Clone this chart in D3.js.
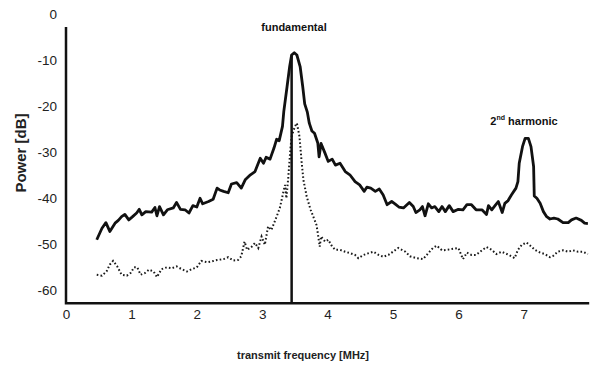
<!DOCTYPE html>
<html>
  <head>
  <title>Power spectrum</title>
  </head>
  <body>
  <style>
    body, html {
      margin: 0;
      padding: 0;
      background: #fff;
    }
    svg text {
      font-family: "Liberation Sans", Arial, sans-serif;
    }
  </style>

  <svg id="svg" width="594" height="367"></svg>

  <script src="https://cdn.jsdelivr.net/npm/d3@7"></script>
  <script>
    // frequency (MHz) / power (dB)
    const signalFreq = [0.47, 0.55, 0.61, 0.67, 0.75, 0.80, 0.85, 0.90, 0.96, 1.01, 1.08, 1.12, 1.16, 1.22, 1.31, 1.36, 1.39, 1.43, 1.49, 1.55,
      1.64, 1.69, 1.75, 1.82, 1.88, 1.94, 2.00, 2.05, 2.09, 2.18, 2.25, 2.31, 2.35, 2.41, 2.48, 2.53, 2.61, 2.68, 2.74, 2.82,
      2.89, 2.97, 3.02, 3.06, 3.12, 3.18, 3.22, 3.26, 3.31, 3.33, 3.38, 3.42, 3.45, 3.49, 3.53, 3.58, 3.62, 3.65, 3.69, 3.72,
      3.76, 3.80, 3.85, 3.87, 3.90, 3.96, 4.01, 4.07, 4.12, 4.19, 4.27, 4.34, 4.42, 4.49, 4.56, 4.60, 4.66, 4.73, 4.79, 4.85,
      4.91, 4.98, 5.03, 5.09, 5.16, 5.25, 5.31, 5.35, 5.41, 5.45, 5.49, 5.54, 5.59, 5.64, 5.70, 5.75, 5.80, 5.86, 5.92, 6.00,
      6.07, 6.13, 6.20, 6.27, 6.36, 6.43, 6.46, 6.51, 6.56, 6.61, 6.67, 6.71, 6.76, 6.81, 6.88, 6.91, 6.93, 6.98, 7.02, 7.07,
      7.11, 7.15, 7.16, 7.20, 7.25, 7.30, 7.35, 7.40, 7.46, 7.52, 7.60, 7.68, 7.73, 7.80, 7.88, 7.93, 7.98]
    const signalPower = [-49.0, -46.5, -45.3, -47.2, -45.4, -44.8, -44.0, -43.5, -44.7, -44.1, -43.2, -42.4, -43.6, -42.9, -43.0, -42.0, -43.8, -41.8, -43.6, -42.5,
      -42.1, -40.9, -42.4, -42.5, -43.2, -41.6, -41.9, -40.0, -41.2, -40.7, -40.2, -37.8, -38.2, -38.5, -38.8, -36.9, -36.6, -37.8, -36.0, -34.9,
      -34.2, -31.3, -32.4, -31.1, -31.5, -29.1, -27.2, -27.5, -24.4, -21.2, -15.8, -11.4, -8.9, -8.4, -8.9, -11.4, -15.8, -19.5, -21.3, -23.7,
      -25.4, -25.9, -28.0, -31.0, -28.1, -30.2, -32.0, -31.5, -32.8, -32.4, -34.2, -34.9, -36.4, -37.1, -38.5, -37.6, -37.8, -38.5, -38.0, -39.3,
      -41.4, -40.7, -41.2, -41.9, -42.1, -40.9, -41.8, -43.1, -42.5, -41.8, -43.8, -41.2, -42.1, -41.8, -42.9, -41.8, -42.9, -41.6, -42.9, -42.4,
      -42.5, -41.4, -41.4, -42.5, -42.5, -43.5, -41.6, -42.5, -41.6, -40.7, -43.1, -41.1, -40.5, -39.3, -37.8, -36.4, -32.4, -28.8, -27.0, -27.0,
      -28.8, -33.1, -39.5, -40.0, -41.1, -42.9, -44.0, -44.5, -44.3, -44.5, -45.3, -45.3, -44.7, -44.3, -44.8, -45.4, -45.5]

    const noiseFreq = [0.47, 0.55, 0.62, 0.67, 0.72, 0.78, 0.85, 0.93, 0.99, 1.04, 1.09, 1.14, 1.21, 1.27, 1.34, 1.39, 1.46, 1.54, 1.62, 1.69,
      1.77, 1.85, 1.92, 2.00, 2.07, 2.16, 2.23, 2.31, 2.41, 2.48, 2.56, 2.63, 2.68, 2.73, 2.77, 2.84, 2.89, 2.94, 2.99, 3.04,
      3.09, 3.14, 3.22, 3.27, 3.33, 3.35, 3.37, 3.40, 3.43, 3.45, 3.50, 3.53, 3.57, 3.60, 3.63, 3.68, 3.74, 3.79, 3.83, 3.85,
      3.88, 3.90, 3.96, 4.01, 4.07, 4.12, 4.19, 4.27, 4.34, 4.42, 4.47, 4.55, 4.63, 4.70, 4.78, 4.85, 4.93, 5.00, 5.08, 5.19,
      5.26, 5.36, 5.46, 5.54, 5.61, 5.67, 5.75, 5.82, 5.90, 6.00, 6.07, 6.13, 6.20, 6.27, 6.36, 6.43, 6.51, 6.58, 6.66, 6.74,
      6.81, 6.86, 6.91, 6.97, 7.04, 7.10, 7.17, 7.25, 7.32, 7.40, 7.45, 7.52, 7.60, 7.68, 7.75, 7.83, 7.90, 7.98]
    const noisePower = [-56.6, -56.8, -55.9, -54.4, -53.6, -54.7, -56.6, -56.8, -56.2, -55.0, -55.0, -56.6, -56.2, -55.5, -55.9, -57.1, -55.4, -55.0, -55.2, -54.8,
      -55.4, -55.9, -55.4, -55.0, -53.6, -53.9, -53.7, -53.4, -53.2, -52.8, -53.5, -53.4, -52.6, -49.4, -51.2, -50.5, -49.7, -50.8, -48.3, -50.1,
      -46.1, -46.9, -44.0, -42.1, -38.2, -37.1, -40.0, -35.3, -29.5, -26.6, -24.4, -23.7, -26.6, -31.7, -36.0, -39.6, -42.5, -44.3, -45.8, -47.6,
      -50.5, -48.3, -49.4, -49.0, -50.5, -51.2, -51.2, -51.6, -51.9, -52.3, -53.0, -52.3, -51.9, -51.6, -52.3, -52.7, -52.3, -51.6, -50.8, -51.6,
      -52.6, -53.0, -53.2, -51.9, -50.8, -50.3, -51.3, -51.2, -51.0, -50.8, -53.2, -51.8, -52.3, -52.3, -51.3, -50.6, -51.2, -52.1, -51.6, -52.1,
      -52.6, -53.0, -51.2, -50.1, -49.6, -50.3, -51.2, -51.8, -52.1, -52.8, -52.5, -51.6, -51.3, -51.6, -51.3, -51.6, -51.6, -52.1]

    // transmit marker line at the fundamental
    const markerFreq = 3.45
    const markerTop = -9

    const xTicks = [0, 1, 2, 3, 4, 5, 6, 7]
    const yTicks = [0, -10, -20, -30, -40, -50, -60]

    const svg = d3.select('#svg')

    const xScale = d3.scaleLinear()
      .domain([0, 8])
      .range([66, 589.2])
    const yScale = d3.scaleLinear()
      .domain([-62.8, 0])
      .range([303.3, 14])

    const linegen = d3.line()
      .x(d => xScale(d[0]))
      .y(d => yScale(d[1]))
      .curve(d3.curveLinear)

    const signal = signalFreq.map((f, i) => [f, signalPower[i]])
    const noise = noiseFreq.map((f, i) => [f, noisePower[i]])

    // dotted curve
    svg.append('path')
      .attr('d', linegen(noise))
      .attr('fill', 'none')
      .attr('stroke', '#1a1a1a')
      .attr('stroke-width', 2)
      .attr('stroke-dasharray', '1.6,2.2')

    // vertical marker
    svg.append('line')
      .attr('x1', xScale(markerFreq))
      .attr('x2', xScale(markerFreq))
      .attr('y1', yScale(-62.8))
      .attr('y2', yScale(markerTop))
      .attr('stroke', '#111')
      .attr('stroke-width', 2.5)

    // solid curve
    svg.append('path')
      .attr('d', linegen(signal))
      .attr('fill', 'none')
      .attr('stroke', '#111')
      .attr('stroke-width', 2.8)
      .attr('stroke-linejoin', 'round')

    // axes
    const leftAxis = d3.axisLeft(yScale)
      .tickValues(yTicks)
      .tickSize(0)
      .tickPadding(9)
      .tickFormat(d => String(d))
    const bottomAxis = d3.axisBottom(xScale)
      .tickValues(xTicks)
      .tickSize(0)
      .tickPadding(6)

    const gy = svg.append('g')
      .attr('transform', `translate(${xScale(0)}, 0)`)
      .call(leftAxis)
    const gx = svg.append('g')
      .attr('transform', `translate(0, ${yScale(-62.8)})`)
      .call(bottomAxis)

    gy.select('.domain').remove()
    gx.select('.domain').remove()
    svg.selectAll('.tick text')
      .style('font-size', '13.5px')
      .attr('fill', '#222')

    // axis lines
    svg.append('path')
      .attr('d', `M${xScale(0)},${yScale(-2.8)}V${yScale(-62.8)}H${xScale(8)}`)
      .attr('fill', 'none')
      .attr('stroke', '#111')
      .attr('stroke-width', 2.5)

    // titles
    svg.append('text')
      .attr('transform', 'translate(20, 153) rotate(-90)')
      .attr('text-anchor', 'middle')
      .attr('dominant-baseline', 'central')
      .style('font-size', '15px')
      .style('font-weight', 'bold')
      .attr('fill', '#222')
      .text('Power [dB]')

    svg.append('text')
      .attr('x', 303)
      .attr('y', 355)
      .attr('text-anchor', 'middle')
      .attr('dominant-baseline', 'central')
      .style('font-size', '11px')
      .style('font-weight', 'bold')
      .attr('fill', '#222')
      .text('transmit frequency [MHz]')

    svg.append('text')
      .attr('x', 294)
      .attr('y', 27)
      .attr('text-anchor', 'middle')
      .attr('dominant-baseline', 'central')
      .style('font-size', '11px')
      .style('font-weight', 'bold')
      .attr('fill', '#111')
      .text('fundamental')

    const harm = svg.append('text')
      .attr('x', 524)
      .attr('y', 121)
      .attr('text-anchor', 'middle')
      .attr('dominant-baseline', 'central')
      .style('font-size', '11px')
      .style('font-weight', 'bold')
      .attr('fill', '#111')
    harm.append('tspan').text('2')
    harm.append('tspan').attr('dy', -4).style('font-size', '7px').text('nd')
    harm.append('tspan').attr('dy', 4).text(' harmonic')
  </script>
  </body>
</html>
